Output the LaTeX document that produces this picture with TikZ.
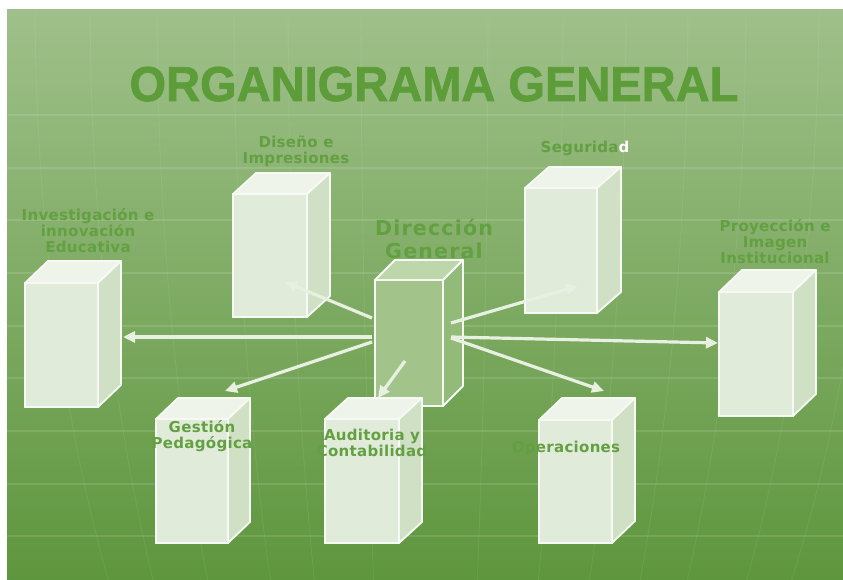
\documentclass[tikz,border=0pt]{standalone}
\usepackage{fontspec}
\setmainfont{DejaVu Sans}
\newfontfamily\lblfont{DejaVu Sans}[LetterSpace=2]
\newfontfamily\dirfont{DejaVu Sans}[LetterSpace=6]
\newfontfamily\titlefont{Liberation Sans}[BoldFeatures={FakeBold=1.4}]
\usetikzlibrary{arrows.meta,calc}
\definecolor{bgtop}{HTML}{9FC08A}
\definecolor{bgbot}{HTML}{5E963D}
\definecolor{stdfill}{HTML}{E1EBDA}
\definecolor{stdtopc}{HTML}{EEF4EA}
\definecolor{stdsidec}{HTML}{CFE0C5}
\definecolor{edgec}{HTML}{F7FAF4}
\definecolor{dirfill}{HTML}{A2C48B}
\definecolor{dirtopc}{HTML}{BDD7AB}
\definecolor{dirsidec}{HTML}{92BA79}
\definecolor{labelc}{HTML}{63A041}
\definecolor{titlec}{HTML}{5C9C39}
\definecolor{arrowc}{HTML}{E8F0E1}
\newcommand\mkbox[8]{%
  \node[#8front, minimum width=#4pt, minimum height=#5pt] (#1) at (#2,#3) {};
  \path[#8top] (#1.north west) -- ++(#6,-#7) -- ++(#4,0) -- (#1.north east) -- cycle;
  \path[#8side] (#1.north east) -- ++(#6,-#7) -- ++(0,#5) -- (#1.south east) -- cycle;
}
\begin{document}
\begin{tikzpicture}[x=1pt,y=-1pt,
  stdfront/.style={draw=edgec, line width=1.8pt, fill=stdfill, inner sep=0pt, outer sep=0pt, anchor=north west},
  stdtop/.style={draw=edgec, line width=1.8pt, fill=stdtopc, line join=round},
  stdside/.style={draw=edgec, line width=1.8pt, fill=stdsidec, line join=round},
  dirfront/.style={draw=edgec, line width=1.8pt, fill=dirfill, inner sep=0pt, outer sep=0pt, anchor=north west},
  dirtop/.style={draw=edgec, line width=1.8pt, fill=dirtopc, line join=round},
  dirside/.style={draw=edgec, line width=1.8pt, fill=dirsidec, line join=round},
  link/.style={draw=arrowc, line width=3.2pt, -{Triangle[length=12pt,width=11pt]}},
  lbl/.style={text=labelc, font=\lblfont\bfseries\fontsize{15}{16}\selectfont, align=center, inner sep=0pt},
  dirlbl/.style={text=labelc, font=\dirfont\bfseries\fontsize{20.5}{23}\selectfont, align=center, inner sep=0pt},
  grid/.style={white, opacity=0.12, line width=1.1pt},
  merid/.style={white, opacity=0.07, line width=0.9pt},
]
\fill[white] (0,0) rectangle (843,580);
\useasboundingbox (0,0) rectangle (843,580);
\shade[top color=bgtop, bottom color=bgbot] (7,10) rectangle (843,580);
\begin{scope}
\clip (7,10) rectangle (843,580);
\foreach \yy in {115,168,220,273,326,378,431,484,536}
  \draw[grid] (7,\yy) -- (843,\yy);
\foreach \r in {-395,-340,-273,-196,-142,-69,58,133,196,258,316,389,444}
  \draw[merid] plot[domain=10:580, samples=25] ({430+\r*sqrt(1-(\x/1000)^2)}, \x);
\end{scope}

\node[text=titlec, font=\titlefont\bfseries\fontsize{49}{50}\selectfont, anchor=base, inner sep=0pt] (title) at (434,101) {\scalebox{0.96}[1]{ORGANIGRAMA GENERAL}};

\mkbox{inv}{25}{283}{73}{124}{23}{22}{std}
\mkbox{dis}{233}{194}{74}{123}{23}{21}{std}
\mkbox{seg}{525}{188}{72}{125}{24}{21}{std}
\mkbox{pro}{719}{292}{74}{124}{23}{22}{std}
\mkbox{dir}{375}{280}{68}{126}{20}{20}{dir}
\mkbox{ges}{156}{419}{72}{124}{22}{21}{std}
\mkbox{aud}{325}{419}{74}{124}{23}{21}{std}
\mkbox{ope}{539}{420}{73}{123}{23}{22}{std}

\coordinate (a1s) at (372,337); \coordinate (a1e) at (123,337);
\coordinate (a2s) at (372,318); \coordinate (a2e) at (285,282);
\coordinate (a3s) at (372,342); \coordinate (a3e) at (225,391);
\coordinate (a4s) at (405,361); \coordinate (a4e) at (378,398);
\coordinate (a5s) at (451,323); \coordinate (a5e) at (578,286);
\coordinate (a6s) at (451,337); \coordinate (a6e) at (718,343);
\coordinate (a7s) at (451,338); \coordinate (a7e) at (604,391);
\draw[link] (a1s) -- (a1e);
\draw[link] (a2s) -- (a2e);
\draw[link] (a3s) -- (a3e);
\draw[link] (a4s) -- (a4e);
\draw[link] (a5s) -- (a5e);
\draw[link] (a6s) -- (a6e);
\draw[link] (a7s) -- (a7e);

\node[lbl] (tinv) at (88,231) {Investigación e\\innovación\\Educativa};
\node[lbl] (tdis) at (296,151) {Diseño e\\Impresiones};
\node[dirlbl] (tdir) at (434,239) {Dirección\\General};
\node[lbl] (tseg) at (585,148) {Segurida{\color{white}d}};
\node[lbl] (tpro) at (775,242) {Proyección e\\Imagen\\Institucional};
\node[lbl] (tges) at (202,436) {Gestión\\Pedagógica};
\node[lbl] (taud) at (372,443) {Auditoria y\\Contabilidad};
\node[lbl] (tope) at (566,448) {Operaciones};
\end{tikzpicture}
\end{document}
